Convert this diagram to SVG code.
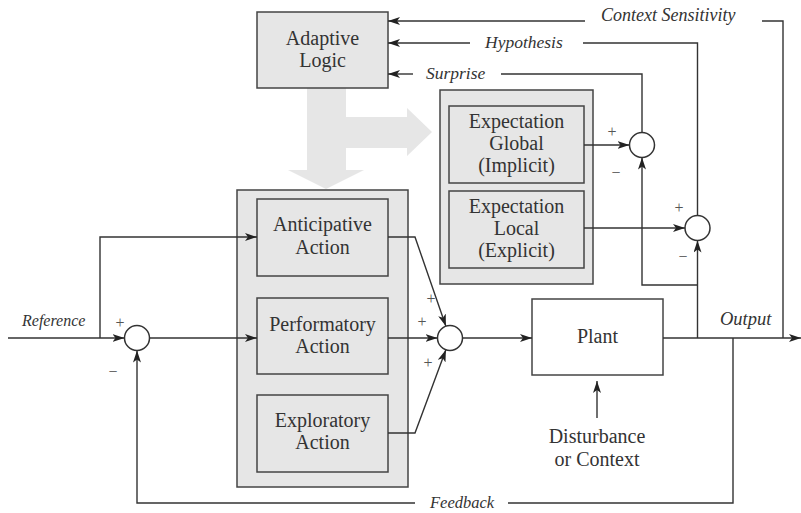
<svg xmlns="http://www.w3.org/2000/svg" width="801" height="513" viewBox="0 0 801 513">
  <style>
    .box { fill: #e6e6e6; stroke: #444; stroke-width: 1.5; }
    .plain { fill: #fff; stroke: #444; stroke-width: 1.5; }
    .sum { fill: #fff; stroke: #333; stroke-width: 1.5; }
    .wire { fill: none; stroke: #333; stroke-width: 1.4; }
    .arr { marker-end: url(#head); }
    text { font-family: 'Liberation Serif', 'DejaVu Serif', serif; }
    .lbl { font-size: 20px; fill: #333; text-anchor: middle; }
    .it { font-style: italic; font-size: 17.5px; fill: #333; }
    .sign { font-size: 16px; fill: #555; text-anchor: middle; }
    .big { fill: #e6e6e6; stroke: none; }
  </style>
  <defs>
    <marker id="head" viewBox="0 0 12 8" refX="12" refY="4" markerWidth="12" markerHeight="8" markerUnits="userSpaceOnUse" orient="auto">
      <path d="M0,0 L12,4 L0,8 L3,4 Z" fill="#222"/>
    </marker>
  </defs>

  <!-- broad gray flow arrows from the adaptive logic block -->
  <path class="big" d="M307,88 L346,88 L346,117 L407,117 L407,108 L432,132 L407,156 L407,148 L346,148 L346,170 L364,170 L326,189 L288,170 L307,170 Z"/>

  <!-- blocks -->
  <g id="adaptive-logic" font-family="Liberation Serif, DejaVu Serif, serif">
    <rect class="box" x="257" y="12" width="131" height="76"/>
    <text class="lbl" x="322.5" y="45">Adaptive</text>
    <text class="lbl" x="322.5" y="67">Logic</text>
  </g>

  <g id="expectation-group">
    <rect class="box" x="440" y="90" width="153" height="194"/>
  </g>
  <g id="expectation-global" font-family="Liberation Serif, DejaVu Serif, serif">
    <rect class="box" x="449" y="106" width="135" height="77"/>
    <text class="lbl" x="516.5" y="128">Expectation</text>
    <text class="lbl" x="516.5" y="150">Global</text>
    <text class="lbl" x="516.5" y="172">(Implicit)</text>
  </g>
  <g id="expectation-local" font-family="Liberation Serif, DejaVu Serif, serif">
    <rect class="box" x="449" y="191" width="135" height="77"/>
    <text class="lbl" x="516.5" y="213">Expectation</text>
    <text class="lbl" x="516.5" y="235">Local</text>
    <text class="lbl" x="516.5" y="257">(Explicit)</text>
  </g>

  <g id="action-group">
    <rect class="box" x="237" y="190" width="171" height="297"/>
  </g>
  <g id="anticipative-action" font-family="Liberation Serif, DejaVu Serif, serif">
    <rect class="box" x="257" y="199" width="131" height="77"/>
    <text class="lbl" x="322.5" y="231">Anticipative</text>
    <text class="lbl" x="322.5" y="254">Action</text>
  </g>
  <g id="performatory-action" font-family="Liberation Serif, DejaVu Serif, serif">
    <rect class="box" x="257" y="298" width="131" height="76"/>
    <text class="lbl" x="322.5" y="331">Performatory</text>
    <text class="lbl" x="322.5" y="353">Action</text>
  </g>
  <g id="exploratory-action" font-family="Liberation Serif, DejaVu Serif, serif">
    <rect class="box" x="257" y="395" width="131" height="77"/>
    <text class="lbl" x="322.5" y="427">Exploratory</text>
    <text class="lbl" x="322.5" y="449">Action</text>
  </g>

  <g id="plant" font-family="Liberation Serif, DejaVu Serif, serif">
    <rect class="plain" x="532" y="299" width="131" height="76"/>
    <text class="lbl" x="597.5" y="343">Plant</text>
  </g>

  <g id="disturbance" font-family="Liberation Serif, DejaVu Serif, serif">
    <text class="lbl" x="597" y="443">Disturbance</text>
    <text class="lbl" x="597" y="466">or Context</text>
  </g>

  <!-- connectors -->
  <g id="connectors" font-family="Liberation Serif, DejaVu Serif, serif">
    <!-- reference input and anticipative branch -->
    <line class="wire arr" x1="8" y1="338" x2="124.5" y2="338"/>
    <polyline class="wire arr" points="100,338 100,237 257,237"/>
    <line class="wire arr" x1="149.5" y1="338" x2="257" y2="338"/>

    <!-- actions into the summing junction -->
    <polyline class="wire arr" points="388,237 415,237 445.9,326.2"/>
    <line class="wire arr" x1="388" y1="338" x2="437.5" y2="338"/>
    <polyline class="wire arr" points="388,433 415,433 445.9,349.8"/>

    <!-- to plant and output -->
    <line class="wire arr" x1="462.5" y1="338" x2="532" y2="338"/>
    <line class="wire arr" x1="663" y1="338" x2="801" y2="338"/>

    <!-- disturbance -->
    <line class="wire arr" x1="597" y1="418" x2="597" y2="381"/>

    <!-- feedback loop -->
    <polyline class="wire" points="733,338 733,503 508,503"/>
    <polyline class="wire arr" points="415,503 137,503 137,350.5"/>

    <!-- expectation comparisons -->
    <line class="wire arr" x1="584" y1="145" x2="629.5" y2="145"/>
    <line class="wire arr" x1="584" y1="228" x2="685" y2="228"/>
    <line class="wire arr" x1="697.5" y1="338" x2="697.5" y2="240.5"/>
    <polyline class="wire arr" points="697.5,285 642,285 642,157.5"/>

    <!-- signals back to adaptive logic -->
    <polyline class="wire" points="642,132.5 642,74 501,74"/>
    <line class="wire arr" x1="413" y1="74" x2="388" y2="74"/>
    <polyline class="wire" points="697.5,215.5 697.5,43 583,43"/>
    <line class="wire arr" x1="470" y1="43" x2="388" y2="43"/>
    <polyline class="wire" points="783,338 783,21 762,21"/>
    <line class="wire arr" x1="585" y1="21" x2="388" y2="21"/>

    <!-- summing junctions -->
    <circle class="sum" cx="137" cy="338" r="12.5"/>
    <circle class="sum" cx="450" cy="338" r="12.5"/>
    <circle class="sum" cx="642" cy="145" r="12.5"/>
    <circle class="sum" cx="697.5" cy="228" r="12.5"/>

    <!-- signs -->
    <text class="sign" x="120" y="328">+</text>
    <text class="sign" x="113" y="377">−</text>
    <text class="sign" x="431" y="304">+</text>
    <text class="sign" x="422" y="327">+</text>
    <text class="sign" x="428" y="368">+</text>
    <text class="sign" x="612" y="137">+</text>
    <text class="sign" x="616" y="178">−</text>
    <text class="sign" x="679" y="213">+</text>
    <text class="sign" x="683" y="262">−</text>

    <!-- signal labels -->
    <text class="it" x="601" y="21" style="font-size:18px">Context Sensitivity</text>
    <text class="it" x="485" y="48">Hypothesis</text>
    <text class="it" x="426" y="79">Surprise</text>
    <text class="it" x="22" y="326" style="font-size:16px">Reference</text>
    <text class="it" x="720" y="325" style="font-size:18.5px">Output</text>
    <text class="it" x="430" y="508" style="font-size:16.5px">Feedback</text>
  </g>
</svg>
